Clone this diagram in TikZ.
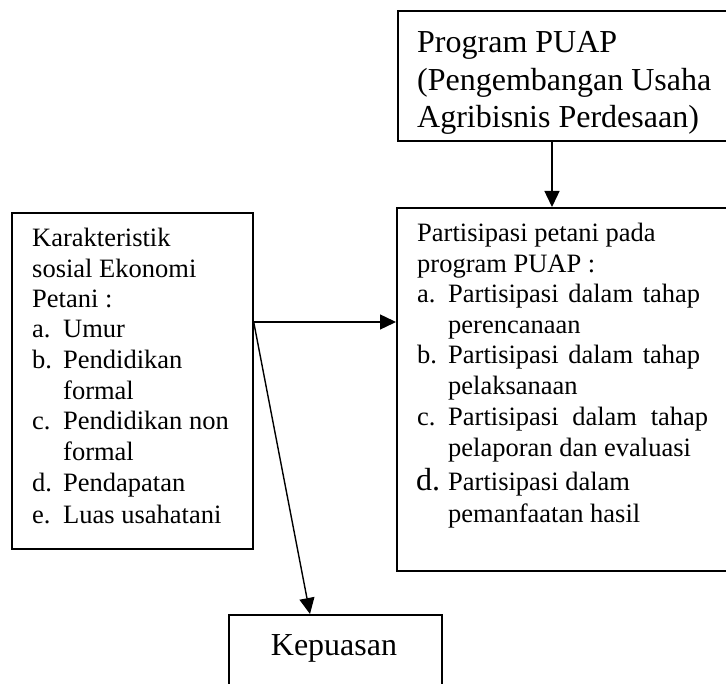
\documentclass[tikz,border=0pt]{standalone}
\usepackage{fontspec}
\setmainfont{Liberation Serif}
\usetikzlibrary{arrows.meta}
\begin{document}
\begin{tikzpicture}[x=1pt,y=-1pt,
  box/.style={draw, line width=1.7pt, rectangle, inner sep=0pt, anchor=north west},
  arr/.style={line width=1.4pt, -{Triangle[length=16pt,width=15pt]}},
  txt/.style={anchor=base west, inner sep=0pt},
  fbig/.style={font=\fontsize{32}{37}\selectfont},
  fmid/.style={font=\fontsize{26.5}{30}\selectfont}]
\useasboundingbox (0,0) rectangle (726,684);
\clip (0,0) rectangle (726,684);
% boxes
\node[box, minimum width=450pt, minimum height=130pt] (prog) at (397,10) {};
\node[box, minimum width=450pt, minimum height=363pt] (part) at (396,207) {};
\node[box, minimum width=241pt, minimum height=336pt] (kar) at (11,212) {};
\node[box, minimum width=213pt, minimum height=120pt] (kep) at (228,614) {};
% top box text
\node[txt, fbig] (p1) at (417,53) {Program PUAP};
\node[txt, fbig] (p2) at (417,90.5) {(Pengembangan Usaha};
\node[txt, fbig] (p3) at (417,128) {Agribisnis Perdesaan)};
% left box text
\node[txt, fmid] (k1) at (32,247) {Karakteristik};
\node[txt, fmid] (k2) at (32,278) {sosial Ekonomi};
\node[txt, fmid] (k3) at (32,308) {Petani :};
\node[txt, fmid] (ka) at (32,338) {a.};
\node[txt, fmid] (ka1) at (63,338) {Umur};
\node[txt, fmid] (kb) at (32,369) {b.};
\node[txt, fmid] (kb1) at (63,369) {Pendidikan};
\node[txt, fmid] (kb2) at (63,400) {formal};
\node[txt, fmid] (kc) at (32,430) {c.};
\node[txt, fmid] (kc1) at (63,430) {Pendidikan non};
\node[txt, fmid] (kc2) at (63,461) {formal};
\node[txt, fmid] (kd) at (32,492) {d.};
\node[txt, fmid] (kd1) at (63,492) {Pendapatan};
\node[txt, fmid] (ke) at (32,523) {e.};
\node[txt, fmid] (ke1) at (63,523) {Luas usahatani};
% right box text
\node[txt, fmid] (r1) at (417,242) {Partisipasi petani pada};
\node[txt, fmid] (r2) at (417,273) {program PUAP :};
\node[txt, fmid] (ra) at (417,303) {a.};
\node[txt, fmid] (ra1) at (448,303) {\makebox[252pt][s]{Partisipasi dalam tahap}};
\node[txt, fmid] (ra2) at (448,334) {perencanaan};
\node[txt, fmid] (rb) at (417,364) {b.};
\node[txt, fmid] (rb1) at (448,364) {\makebox[252pt][s]{Partisipasi dalam tahap}};
\node[txt, fmid] (rb2) at (448,395) {pelaksanaan};
\node[txt, fmid] (rc) at (417,426) {c.};
\node[txt, fmid] (rc1) at (448,426) {\makebox[260pt][s]{Partisipasi dalam tahap}};
\node[txt, fmid] (rc2) at (448,457) {pelaporan dan evaluasi};
\node[txt, fbig] (rd) at (416,490) {d.};
\node[txt, fmid] (rd1) at (448,490) {Partisipasi dalam};
\node[txt, fmid] (rd2) at (448,522) {pemanfaatan hasil};
% bottom box text
\node[anchor=base, inner sep=0pt, fbig] (kt) at (334,655) {Kepuasan};
% connectors
\coordinate (cx1) at (552,0);
\coordinate (cy1) at (0,322);
\coordinate (cx2) at (310,0);
\draw[arr] (prog.south -| cx1) -- (part.north -| cx1);
\draw[arr] (kar.east |- cy1) -- (part.west |- cy1);
\draw[arr] (kar.east |- cy1) -- (kep.north -| cx2);
\end{tikzpicture}
\end{document}
